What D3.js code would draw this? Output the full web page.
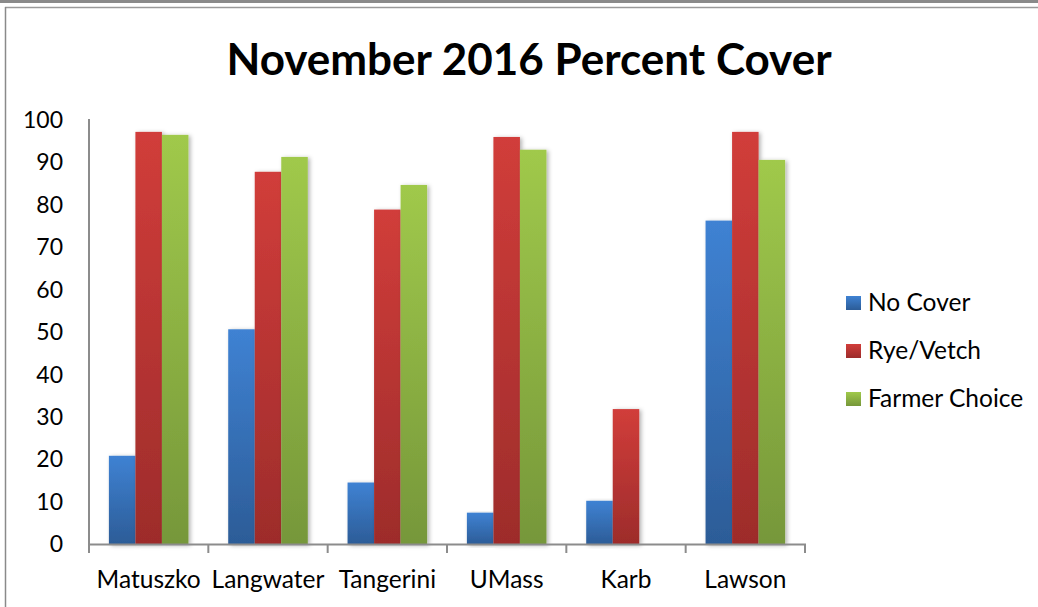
<!DOCTYPE html>
<html>
<head>
<meta charset="utf-8">
<script src="https://cdn.jsdelivr.net/npm/d3@7"></script>
<style>
  html, body { margin: 0; padding: 0; background: #fff; }
  svg { display: block; }
  text { font-family: Lato, "Open Sans", sans-serif; fill: #000; }
</style>
</head>
<body>
<svg id="chart" width="1038" height="607"></svg>
<script>
const categories = ["Matuszko", "Langwater", "Tangerini", "UMass", "Karb", "Lawson"];
const seriesNames = ["No Cover", "Rye/Vetch", "Farmer Choice"];
const noCover = [20.9, 50.7, 14.6, 7.5, 10.3, 76.3];
const ryeVetch = [97.2, 87.8, 78.9, 96.0, 31.9, 97.2];
const farmerChoice = [96.5, 91.3, 84.7, 93.0, 0, 90.6];
const yTicks = [0, 10, 20, 30, 40, 50, 60, 70, 80, 90, 100];
const title = "November 2016 Percent Cover";

const seriesValues = [noCover, ryeVetch, farmerChoice];
const gradColors = [
  ["#3f82d3", "#2c5c97"],
  ["#d13d3a", "#9d2c2b"],
  ["#a0c94b", "#76973a"]
];

const svg = d3.select("#chart");
const defs = svg.append("defs");
gradColors.forEach((c, i) => {
  const g = defs.append("linearGradient").attr("id", "grad" + i)
    .attr("x1", 0).attr("y1", 0).attr("x2", 0).attr("y2", 1);
  g.append("stop").attr("offset", "0%").attr("stop-color", c[0]);
  g.append("stop").attr("offset", "100%").attr("stop-color", c[1]);
});
const f = defs.append("filter").attr("id", "shadow")
  .attr("x", "-20%").attr("y", "-5%").attr("width", "150%").attr("height", "115%");
f.append("feDropShadow").attr("dx", 2).attr("dy", 1).attr("stdDeviation", 2)
  .attr("flood-color", "#000").attr("flood-opacity", 0.3);
const gf = defs.append("filter").attr("id", "lshadow")
  .attr("x", "-5%").attr("y", "-200%").attr("width", "110%").attr("height", "500%");
gf.append("feDropShadow").attr("dx", 0).attr("dy", 1.5).attr("stdDeviation", 0.8)
  .attr("flood-color", "#000").attr("flood-opacity", 0.25);

// frame
svg.append("line").attr("x1", 0).attr("x2", 1038).attr("y1", 1.5).attr("y2", 1.5)
  .attr("stroke", "#8a8a8a").attr("stroke-width", 3);
svg.append("line").attr("x1", 5).attr("x2", 1038).attr("y1", 7.5).attr("y2", 7.5)
  .attr("stroke", "#9a9a9a").attr("stroke-width", 1.5);
svg.append("line").attr("x1", 5.5).attr("x2", 5.5).attr("y1", 7).attr("y2", 607)
  .attr("stroke", "#8a8a8a").attr("stroke-width", 1.5);

const x0 = d3.scaleBand().domain(categories).range([89, 805]).padding(0);
const x1 = d3.scaleBand().domain(d3.range(seriesNames.length)).range([0, x0.bandwidth()])
  .paddingInner(0).paddingOuter(0.75);
const y = d3.scaleLinear().domain([0, 100]).range([544.5, 120]);

// title
svg.append("text").attr("x", 529).attr("y", 75).attr("text-anchor", "middle")
  .style("font-weight", "bold").style("font-size", "44px").text(title);

// gridlines with ticks
const grid = svg.append("g");
yTicks.forEach(t => {
  grid.append("line").attr("x1", 80).attr("x2", 805).attr("y1", y(t)).attr("y2", y(t))
    .attr("stroke", "#8c8c8c").attr("stroke-width", 2).attr("filter", "url(#lshadow)");
});

// y axis labels
const yAxis = d3.axisLeft(y).tickValues(yTicks).tickSize(0).tickPadding(0);
const ya = svg.append("g").attr("transform", "translate(63,0)").call(yAxis);
ya.select(".domain").remove();
ya.selectAll("text").style("font-size", "23px").style("font-family", "Lato, sans-serif").attr("fill", "#000");

// y axis line
svg.append("line").attr("x1", 89).attr("x2", 89).attr("y1", 119).attr("y2", 546)
  .attr("stroke", "#8c8c8c").attr("stroke-width", 2);

// bars
const groups = svg.append("g").selectAll("g").data(categories).join("g")
  .attr("transform", d => `translate(${x0(d)},0)`);
groups.selectAll("rect")
  .data((d, ci) => seriesValues.map((vals, si) => ({ si, v: vals[ci] })))
  .join("rect")
  .filter(d => d.v > 0)
  .attr("x", d => x1(d.si))
  .attr("width", x1.bandwidth())
  .attr("y", d => y(d.v))
  .attr("height", d => y(0) - y(d.v))
  .attr("fill", d => `url(#grad${d.si})`)
  .attr("filter", "url(#shadow)");

// x axis
const xAxis = d3.axisBottom(x0).tickSize(0).tickPadding(0);
const xa = svg.append("g").attr("transform", "translate(0,544.5)").call(xAxis);
xa.select(".domain").remove();
xa.selectAll("text").attr("y", 43).attr("dy", 0).style("font-size", "24.5px")
  .style("font-family", "Lato, sans-serif").attr("fill", "#000");
svg.append("line").attr("x1", 88).attr("x2", 806).attr("y1", 544.5).attr("y2", 544.5)
  .attr("stroke", "#8c8c8c").attr("stroke-width", 2);
const bounds = categories.map(c => x0(c)).concat([x0.range()[1]]);
svg.append("g").selectAll("line").data(bounds).join("line")
  .attr("x1", d => d).attr("x2", d => d).attr("y1", 544.5).attr("y2", 553)
  .attr("stroke", "#8c8c8c").attr("stroke-width", 2);

// legend
const legend = svg.append("g").selectAll("g").data(seriesNames).join("g")
  .attr("transform", (d, i) => `translate(846,${296 + i * 48})`);
legend.append("rect").attr("width", 15).attr("height", 14)
  .attr("fill", (d, i) => `url(#grad${i})`);
legend.append("text").attr("x", 22).attr("y", 15).style("font-size", "24.5px").text(d => d);
</script>
</body>
</html>
